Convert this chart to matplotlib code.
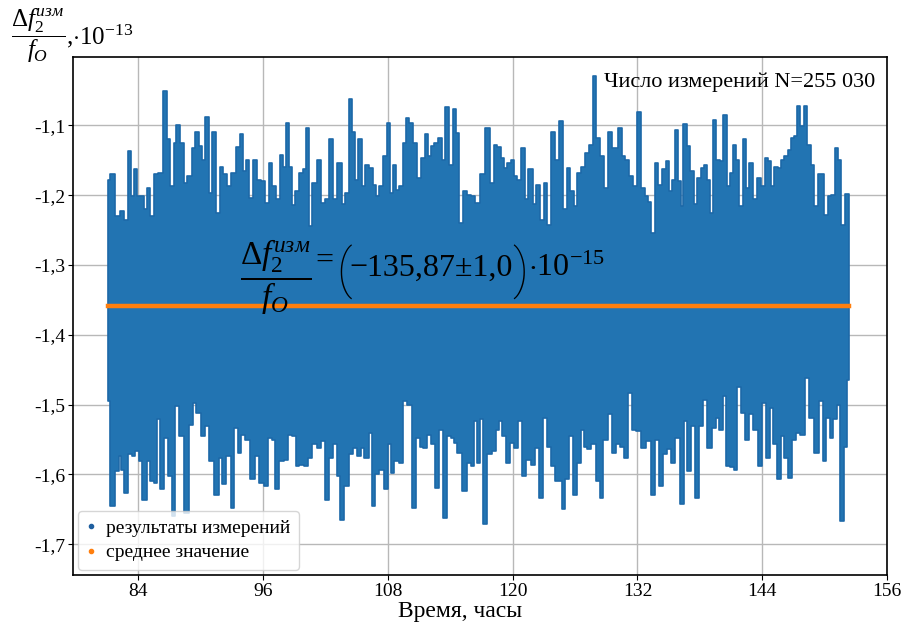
import matplotlib
matplotlib.use("Agg")
import matplotlib.pyplot as plt
from matplotlib.lines import Line2D

plt.rcParams['font.family'] = ['Liberation Serif', 'DejaVu Serif']
plt.rcParams['mathtext.fontset'] = 'custom'
plt.rcParams['mathtext.rm'] = 'Liberation Serif'
plt.rcParams['mathtext.it'] = 'Liberation Serif:italic'
plt.rcParams['mathtext.bf'] = 'Liberation Serif:bold'

# upper envelope of the measurements (hours, x1e-13)
t_hi = [81.09, 81.48, 81.96, 82.44, 82.75, 83.17, 83.39, 83.71, 84.03, 84.45, 84.67, 84.93,
        85.31, 85.72, 86.11, 86.65, 86.90, 87.22, 87.54, 87.77, 88.18, 88.50, 88.92, 89.30,
        89.62, 89.94, 90.19, 90.58, 90.90, 91.28, 91.69, 91.95, 92.33, 92.75, 93.13, 93.55,
        93.93, 94.15, 94.47, 94.79, 95.21, 95.59, 96.01, 96.39, 96.71, 97.03, 97.38, 97.76,
        98.02, 98.30, 98.56, 98.88, 99.29, 99.68, 100.00, 100.25, 100.57, 100.89, 101.37,
        101.75, 102.07, 102.49, 102.87, 103.35, 103.73, 104.05, 104.40, 104.69, 104.95,
        105.33, 105.58, 105.90, 106.38, 106.70, 107.02, 107.34, 107.66, 108.07, 108.30,
        108.62, 108.94, 109.26, 109.58, 109.89, 110.21, 110.63, 110.95, 111.33, 111.72,
        112.03, 112.29, 112.61, 112.99, 113.31, 113.66, 114.05, 114.43, 114.68, 115.00,
        115.39, 115.80, 116.19, 116.60, 117.08, 117.56, 118.04, 118.29, 118.68, 119.00,
        119.31, 119.63, 119.95, 120.27, 120.59, 120.98, 121.29, 121.71, 122.12, 122.44,
        122.83, 123.21, 123.47, 123.85, 124.26, 124.65, 125.06, 125.38, 125.70, 126.02,
        126.34, 126.82, 127.14, 127.55, 127.84, 128.26, 128.57, 128.96, 129.37, 129.69,
        130.01, 130.33, 130.65, 130.97, 131.45, 131.77, 132.15, 132.57, 132.89, 133.20,
        133.46, 133.84, 134.16, 134.58, 134.90, 135.18, 135.50, 135.76, 136.08, 136.24,
        136.56, 136.88, 137.26, 137.61, 137.93, 138.31, 138.54, 138.79, 139.11, 139.43,
        139.75, 140.07, 140.42, 140.71, 141.03, 141.28, 141.60, 141.98, 142.24, 142.56,
        142.94, 143.26, 143.68, 144.06, 144.38, 144.70, 144.95, 145.34, 145.66, 145.98,
        146.30, 146.61, 146.93, 147.25, 147.51, 147.83, 148.15, 148.44, 148.85, 149.17,
        149.49, 149.81, 150.13, 150.45, 150.83, 151.15, 151.41, 151.72, 152.14, 152.36]
v_hi = [-1.178, -1.170, -1.230, -1.223, -1.235, -1.137, -1.201, -1.163, -1.201, -1.201, -1.220,
        -1.189, -1.230, -1.170, -1.168, -1.051, -1.120, -1.187, -1.125, -1.100, -1.125, -1.182,
        -1.172, -1.132, -1.109, -1.130, -1.149, -1.088, -1.197, -1.110, -1.225, -1.159, -1.170,
        -1.187, -1.168, -1.131, -1.113, -1.166, -1.149, -1.204, -1.149, -1.178, -1.180, -1.211,
        -1.154, -1.187, -1.206, -1.142, -1.159, -1.097, -1.159, -1.214, -1.194, -1.168, -1.163,
        -1.104, -1.244, -1.182, -1.149, -1.211, -1.206, -1.120, -1.206, -1.154, -1.213, -1.197,
        -1.062, -1.109, -1.178, -1.120, -1.187, -1.156, -1.161, -1.185, -1.201, -1.187, -1.144,
        -1.096, -1.197, -1.156, -1.192, -1.187, -1.125, -1.090, -1.097, -1.125, -1.175, -1.147,
        -1.113, -1.144, -1.130, -1.125, -1.118, -1.149, -1.074, -1.156, -1.076, -1.111, -1.240,
        -1.194, -1.199, -1.201, -1.211, -1.170, -1.104, -1.182, -1.128, -1.131, -1.147, -1.161,
        -1.154, -1.149, -1.173, -1.178, -1.132, -1.206, -1.162, -1.213, -1.186, -1.235, -1.182,
        -1.242, -1.110, -1.149, -1.093, -1.220, -1.161, -1.194, -1.216, -1.168, -1.159, -1.140,
        -1.128, -1.029, -1.118, -1.144, -1.190, -1.109, -1.132, -1.132, -1.104, -1.144, -1.149,
        -1.173, -1.187, -1.081, -1.190, -1.201, -1.209, -1.254, -1.154, -1.185, -1.163, -1.151,
        -1.194, -1.178, -1.107, -1.180, -1.216, -1.098, -1.130, -1.166, -1.213, -1.175, -1.161,
        -1.156, -1.178, -1.225, -1.092, -1.149, -1.151, -1.085, -1.187, -1.168, -1.128, -1.149,
        -1.216, -1.120, -1.190, -1.154, -1.206, -1.175, -1.187, -1.147, -1.151, -1.187, -1.159,
        -1.161, -1.149, -1.144, -1.135, -1.118, -1.115, -1.072, -1.101, -1.072, -1.128, -1.156,
        -1.216, -1.170, -1.170, -1.228, -1.201, -1.199, -1.132, -1.149, -1.242, -1.198, -1.198]

# lower envelope of the measurements
t_lo = [81.09, 81.48, 81.96, 82.21, 82.44, 82.75, 83.17, 83.55, 83.87, 84.19, 84.57, 84.99,
        85.31, 85.63, 85.95, 86.27, 86.68, 87.00, 87.38, 87.70, 88.09, 88.66, 89.04, 89.36,
        89.78, 90.19, 90.58, 91.06, 91.54, 91.92, 92.24, 92.65, 93.07, 93.39, 93.77, 94.03,
        94.41, 94.98, 95.37, 95.85, 96.26, 96.64, 96.96, 97.35, 97.76, 98.24, 98.56, 98.94,
        99.29, 99.68, 100.09, 100.48, 100.95, 101.37, 101.75, 102.17, 102.55, 102.93, 103.19,
        103.60, 103.99, 104.47, 104.79, 105.20, 105.52, 105.90, 106.38, 106.54, 107.02, 107.34,
        107.82, 108.14, 108.46, 108.78, 109.26, 109.67, 110.06, 110.47, 110.85, 111.24, 111.59,
        111.97, 112.29, 112.70, 113.15, 113.50, 113.89, 114.21, 114.53, 114.84, 115.48, 115.80,
        116.12, 116.38, 116.70, 117.02, 117.33, 117.72, 118.20, 118.52, 118.84, 119.15, 119.57,
        119.89, 120.27, 120.66, 121.07, 121.55, 121.87, 122.35, 122.76, 123.15, 123.47, 123.85,
        124.26, 124.58, 124.90, 125.22, 125.54, 126.02, 126.34, 126.72, 126.98, 127.36, 127.78,
        128.19, 128.51, 128.89, 129.37, 129.76, 130.17, 130.49, 130.87, 131.29, 131.61, 132.09,
        132.66, 133.05, 133.46, 133.84, 134.23, 134.64, 135.02, 135.44, 135.85, 136.24, 136.62,
        136.94, 137.35, 137.77, 138.15, 138.47, 138.95, 139.37, 139.69, 140.01, 140.39, 140.71,
        141.03, 141.44, 141.76, 142.14, 142.56, 142.94, 143.33, 143.84, 144.16, 144.60, 144.92,
        145.24, 145.66, 145.98, 146.30, 146.61, 147.03, 147.41, 147.89, 148.31, 148.69, 149.23,
        149.65, 149.97, 150.35, 150.67, 151.02, 151.34, 151.66, 152.04, 152.36]
v_lo = [-1.495, -1.645, -1.595, -1.574, -1.593, -1.626, -1.571, -1.574, -1.567, -1.581, -1.636,
        -1.581, -1.610, -1.612, -1.520, -1.621, -1.548, -1.602, -1.660, -1.502, -1.545, -1.655,
        -1.529, -1.498, -1.512, -1.545, -1.531, -1.581, -1.629, -1.576, -1.614, -1.574, -1.648,
        -1.533, -1.569, -1.543, -1.550, -1.607, -1.574, -1.612, -1.617, -1.548, -1.550, -1.621,
        -1.581, -1.579, -1.543, -1.545, -1.588, -1.586, -1.588, -1.576, -1.557, -1.562, -1.552,
        -1.636, -1.576, -1.557, -1.602, -1.665, -1.617, -1.571, -1.562, -1.574, -1.562, -1.576,
        -1.540, -1.645, -1.600, -1.593, -1.621, -1.557, -1.598, -1.581, -1.583, -1.495, -1.500,
        -1.648, -1.548, -1.560, -1.562, -1.543, -1.557, -1.619, -1.536, -1.662, -1.545, -1.548,
        -1.555, -1.569, -1.624, -1.583, -1.588, -1.524, -1.583, -1.521, -1.671, -1.571, -1.567,
        -1.536, -1.524, -1.545, -1.583, -1.555, -1.562, -1.524, -1.602, -1.579, -1.586, -1.562,
        -1.633, -1.519, -1.560, -1.588, -1.610, -1.610, -1.650, -1.607, -1.545, -1.629, -1.583,
        -1.536, -1.560, -1.564, -1.557, -1.610, -1.633, -1.550, -1.514, -1.569, -1.557, -1.560,
        -1.576, -1.483, -1.536, -1.538, -1.562, -1.552, -1.629, -1.550, -1.617, -1.571, -1.564,
        -1.583, -1.548, -1.643, -1.524, -1.595, -1.531, -1.633, -1.531, -1.493, -1.562, -1.533,
        -1.519, -1.536, -1.488, -1.588, -1.590, -1.593, -1.474, -1.512, -1.550, -1.514, -1.536,
        -1.588, -1.498, -1.576, -1.505, -1.557, -1.607, -1.545, -1.576, -1.605, -1.550, -1.540,
        -1.543, -1.462, -1.519, -1.569, -1.495, -1.581, -1.519, -1.548, -1.521, -1.500, -1.667,
        -1.560, -1.464]

mean_value = -1.3587

x_ticks = [84, 96, 108, 120, 132, 144, 156]
y_ticks = [-1.7, -1.6, -1.5, -1.4, -1.3, -1.2, -1.1]
y_labels = ['-1,7', '-1,6', '-1,5', '-1,4', '-1,3', '-1,2', '-1,1']

blue = '#2274b2'
orange = '#ff7f0e'
W, H = 903, 624

fig = plt.figure(figsize=(W / 100, H / 100), dpi=100)
ax = fig.add_axes([73 / W, 1 - 575 / H, 814 / W, 518 / H])

ax.fill_between(t_hi, mean_value, v_hi, step='mid', color=blue, edgecolor='#1d68a8',
                linewidth=1.2, zorder=2)
ax.fill_between(t_lo, v_lo, mean_value, step='mid', color=blue, edgecolor='#1d68a8',
                linewidth=1.2, zorder=2)
ax.plot([t_hi[0], t_hi[-1]], [mean_value, mean_value], color=orange, lw=3.2, zorder=3)

ax.set_xlim(77.7, 155.95)
ax.set_ylim(-1.744, -1.002)
ax.set_xticks(x_ticks)
ax.set_yticks(y_ticks)
ax.set_yticklabels(y_labels)
ax.tick_params(labelsize=14, pad=2)
ax.grid(True, color='#b8b8b8', lw=1)
ax.set_axisbelow(True)
for s in ax.spines.values():
    s.set_linewidth(1.2)

handles = [Line2D([], [], marker='.', ls='', color='#1f5f9f', ms=6),
           Line2D([], [], marker='.', ls='', color=orange, ms=6)]
ax.legend(handles, ['результаты измерений', 'среднее значение'], loc='lower left',
          fontsize=14, borderaxespad=0.25, handlelength=0.5, handletextpad=0.5,
          labelspacing=0.35, borderpad=0.45)

ax.text(0.985, 0.952, 'Число измерений N=255 030', transform=ax.transAxes,
        ha='right', va='center', fontsize=16)

# big annotation, laid out piece by piece so the brackets can be tall
renderer = fig.canvas.get_renderer()
paren = dict(fontsize=38, va='center', family='Roboto', fontweight=100)
pieces = [
    (r'$\dfrac{\Delta f_2^{изм}}{f_O}$', dict(fontsize=24, va='center'), 277, 4),
    ('=', dict(fontsize=23, va='baseline'), 269, 2),
    ('(', paren, 272, -2),
    ('\u2212135,87\u00b11,0', dict(fontsize=23, va='baseline'), 276, -1),
    (')', paren, 272, 0),
    (r'$\cdot 10^{-15}$', dict(fontsize=23, va='baseline'), 276, 0),
]
x = 240
for s, kw, y, gap in pieces:
    t = fig.text(x / W, 1 - y / H, s, ha='left', **kw)
    x = t.get_window_extent(renderer).x1 + gap

fig.text(0.012, 0.99, r'$\dfrac{\Delta f_2^{изм}}{f_O}$,$\cdot 10^{-13}$',
         ha='left', va='top', fontsize=18)
fig.text(460 / W, 1 - 611 / H, 'Время, часы', ha='center', va='center', fontsize=17)

fig.savefig('out.png', dpi=100)
